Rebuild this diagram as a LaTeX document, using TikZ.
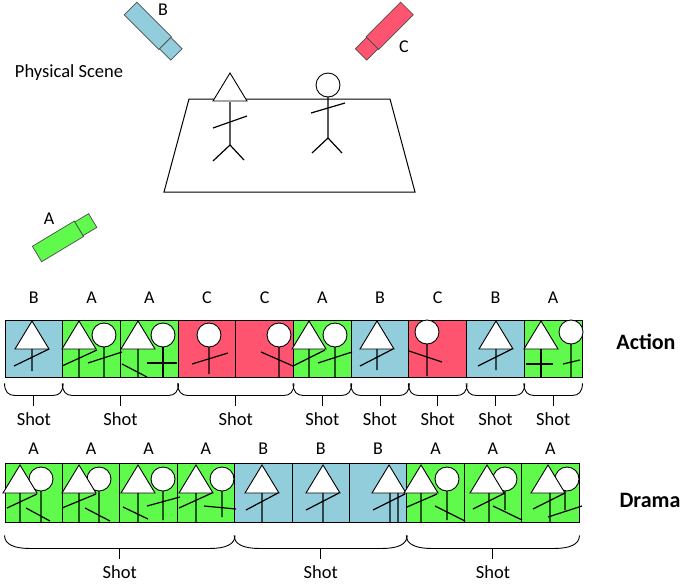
\documentclass[tikz,border=0pt]{standalone}
\usepackage{fontspec}
\setmainfont{Carlito}
\usetikzlibrary{positioning, calc}

\definecolor{camA}{RGB}{95,250,75}
\definecolor{camB}{RGB}{146,205,220}
\definecolor{camC}{RGB}{255,84,112}

\tikzset{
    frame/.style = {draw, line width=0.9pt, minimum width=57.7pt, minimum height=57pt, inner sep=0pt},
    stick/.style = {draw, line width=1.2pt},
    head/.style = {draw, line width=0.9pt, fill=white},
    brace/.style = {draw, line width=0.9pt},
    cambody/.style = {draw=black!70, line width=0.7pt},
    camlabel/.style = {font=\fontsize{18}{20}\selectfont, inner sep=0pt},
    shotlabel/.style = {font=\fontsize{18.5}{20}\selectfont, inner sep=0pt},
    rowlabel/.style = {font=\fontsize{22}{24}\selectfont\bfseries},
    pics/camera/.style = {code={
        \draw[cambody, fill=#1] (0,-9) rectangle (49,9);
        \draw[cambody, fill=#1] (49,-8) rectangle (65,8);
    }},
}

% heads: apex of the triangle, centre of the circle
\newcommand{\trihead}[2]{\draw[head] (#1,#2) -- ++(-17,28) -- ++(34,0) -- cycle;}
\newcommand{\roundhead}[2]{\draw[head] (#1,#2) circle (12pt);}

% brace under frames #1..#2: gap, drop, width of the curled ends
\newcommand{\shot}[5]{%
    \draw[brace] ($(#1.south west)+(0,#3)$)
        .. controls +(0,0.7*#4) and +(-0.6*#5,0) .. ($(#1.south west)+(#5,#3+#4)$)
        -- ($(#2.south east)+(-#5,#3+#4)$)
        .. controls +(0.6*#5,0) and +(0,0.7*#4) .. ($(#2.south east)+(0,#3)$);
    \draw[brace] ($(#1.south west)!0.5!(#2.south east)+(0,#3+#4)$) -- ++(0,11)
        node[shotlabel, below=6pt] {Shot};
}

\begin{document}
\begin{tikzpicture}[x=1pt, y=-1pt]
    \useasboundingbox (0,0) rectangle (684,587);

    % the scene with its three cameras
    \node[font=\fontsize{18.5}{20}\selectfont] (scene) at (69,73) {Physical Scene};
    \draw[line width=1pt] (189,99) -- (390,99) -- (415,192) -- (164,192) -- cycle;

    \pic[rotate=-45] at (130.5,8.5) {camera=camB};
    \pic[rotate=-135] at (407,8.5) {camera=camC};
    \pic[rotate=31] at (37,254) {camera=camA};
    \node[camlabel] (labB) at (163,10) {B};
    \node[camlabel] (labC) at (404,47) {C};
    \node[camlabel] (labA) at (49,219) {A};

    \trihead{230}{73}
    \draw[stick] (230,102) -- (230,145) -- (213,161) (230,145) -- (244,160) (213,128) -- (247,116);
    \roundhead{328}{85}
    \draw[stick] (328,97) -- (328,138) -- (312,153) (328,138) -- (342,153) (311,113) -- (345,103);

    % action cut
    \foreach \cam [count=\i] in {B,A,A,C,C,A,B,C,B,A} {
        \node[frame, fill=cam\cam] (a\i) at ({5+57.7*(\i-0.5)}, 348.5) {};
        \node[camlabel, above=16pt of a\i] {\cam};
    }
    \node[rowlabel] (action) at (646,342) {Action};

    \trihead{32}{321}
    \draw[stick] (32,349) -- (32,371) (14,366) -- (49,349);
    \roundhead{104}{335}
    \draw[stick] (104,347) -- (104,377) (88,363) -- (122,352);
    \trihead{79}{321}
    \draw[stick] (79,349) -- (79,377) (62,366) -- (97,350);
    \roundhead{163}{335}
    \draw[stick] (163,347) -- (163,377) (147,363) -- (177,363);
    \trihead{138}{321}
    \draw[stick] (138,349) -- (138,377) (122,364) -- (147,377);
    \roundhead{209}{335}
    \draw[stick] (209,347) -- (209,374) (192,364) -- (228,353);
    \roundhead{279}{335}
    \draw[stick] (279,347) -- (279,378) (261,352) -- (293,366);
    \roundhead{335}{335}
    \draw[stick] (335,347) -- (335,377) (318,363) -- (352,352);
    \trihead{309}{321}
    \draw[stick] (309,349) -- (309,377) (293,366) -- (325,350);
    \trihead{377}{321}
    \draw[stick] (377,349) -- (377,370) (360,366) -- (393,349);
    \roundhead{427}{332}
    \draw[stick] (427,344) -- (427,376) (409,351) -- (442,362);
    \trihead{496}{321}
    \draw[stick] (496,349) -- (496,370) (478,366) -- (512,349);
    \roundhead{571}{332}
    \draw[stick] (571,344) -- (571,377) (563,364) -- (580,360);
    \trihead{541}{321}
    \draw[stick] (541,349) -- (541,378) (526,364) -- (553,364);

    \shot{a1}{a1}{6}{12}{10}
    \shot{a2}{a3}{6}{12}{10}
    \shot{a4}{a5}{6}{12}{10}
    \shot{a6}{a6}{6}{12}{10}
    \shot{a7}{a7}{6}{12}{10}
    \shot{a8}{a8}{6}{12}{10}
    \shot{a9}{a9}{6}{12}{10}
    \shot{a10}{a10}{6}{12}{10}

    % drama cut
    \foreach \cam [count=\i] in {A,A,A,A,B,B,B,A,A,A} {
        \node[frame, minimum width=57.4pt, minimum height=59pt, fill=cam\cam] (d\i) at ({5+57.4*(\i-0.5)}, 492.5) {};
        \node[camlabel, above=8pt of d\i] {\cam};
    }
    \node[rowlabel] (drama) at (650,500) {Drama};

    \roundhead{41}{479}
    \draw[stick] (41,491) -- (41,522) (26,508) -- (50,521);
    \trihead{20}{465}
    \draw[stick] (20,493) -- (20,522) (7,508) -- (37,494);
    \roundhead{99}{479}
    \draw[stick] (99,491) -- (99,522) (85,508) -- (110,521);
    \trihead{79}{465}
    \draw[stick] (79,493) -- (79,522) (62,508) -- (96,494);
    \roundhead{163}{479}
    \draw[stick] (163,491) -- (163,520) (147,506) -- (180,497);
    \trihead{138}{465}
    \draw[stick] (138,493) -- (138,522) (123,507) -- (148,519);
    \roundhead{222}{479}
    \draw[stick] (222,491) -- (222,517) (204,506) -- (236,509);
    \trihead{196}{465}
    \draw[stick] (196,493) -- (196,522) (179,508) -- (212,493);
    \trihead{262}{465}
    \draw[stick] (262,493) -- (262,522) (246,510) -- (278,493);
    \trihead{323}{465}
    \draw[stick] (323,493) -- (323,522) (306,510) -- (339,493);
    \trihead{389}{465}
    \draw[stick] (390,493) -- (390,522) (398,493) -- (398,522) (373,510) -- (405,494);
    \roundhead{447}{479}
    \draw[stick] (447,491) -- (447,520) (435,506) -- (465,521);
    \trihead{421}{465}
    \draw[stick] (421,493) -- (421,522) (407,507) -- (437,494);
    \roundhead{505}{479}
    \draw[stick] (505,491) -- (505,510) (493,506) -- (522,520);
    \trihead{487}{465}
    \draw[stick] (489,493) -- (489,522) (473,509) -- (505,493);
    \roundhead{567}{479}
    \draw[stick] (565,491) -- (565,510) (548,517) -- (582,506);
    \trihead{548}{465}
    \draw[stick] (550,493) -- (550,522) (533,509) -- (565,493);

    \shot{d1}{d4}{13}{13}{25}
    \shot{d5}{d7}{13}{13}{25}
    \shot{d8}{d10}{13}{13}{25}
\end{tikzpicture}
\end{document}
